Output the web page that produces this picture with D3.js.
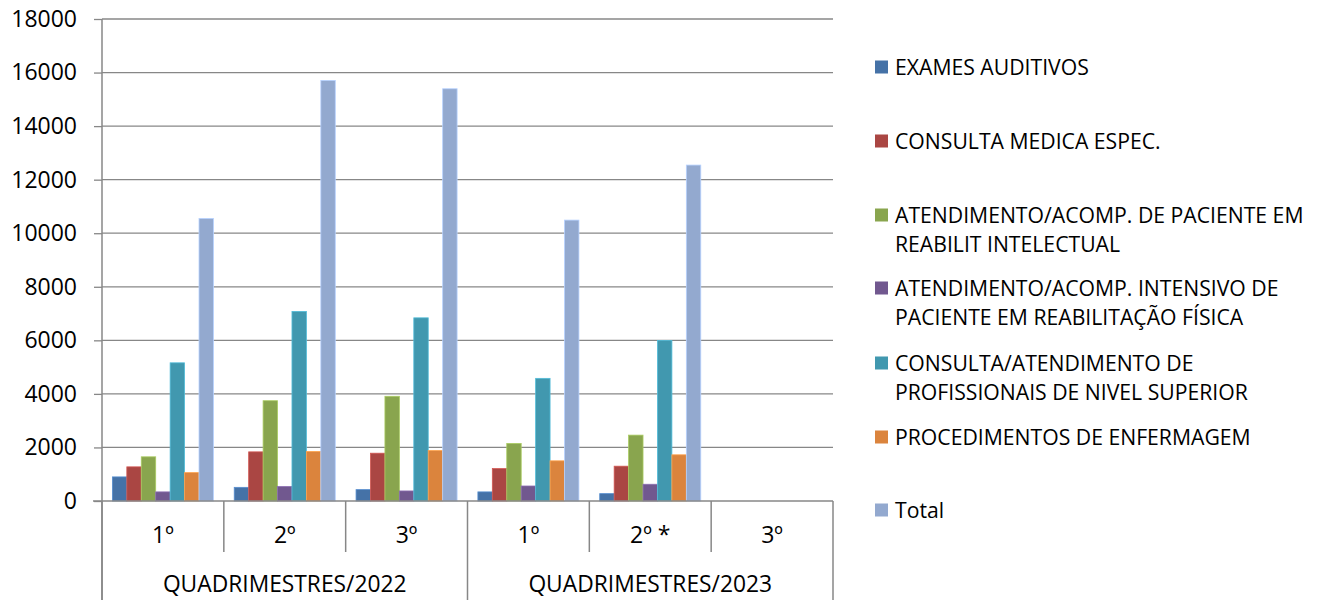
<!DOCTYPE html>
<html>
<head>
<meta charset="utf-8">
<script src="https://cdn.jsdelivr.net/npm/d3@7"></script>
<style>
  html, body { margin: 0; padding: 0; background: #fff; }
  svg { display: block; font-family: "Open Sans", sans-serif; }
</style>
</head>
<body>
<svg id="chart" width="1318" height="600"></svg>
<script>
// ---- data ----
const quarters = ["1º", "2º", "3º", "1º", "2º *", "3º"];
const years = ["QUADRIMESTRES/2022", "QUADRIMESTRES/2023"];
const seriesNames = [
  "EXAMES AUDITIVOS",
  "CONSULTA MEDICA ESPEC.",
  "ATENDIMENTO/ACOMP. DE PACIENTE EM REABILIT INTELECTUAL",
  "ATENDIMENTO/ACOMP. INTENSIVO DE PACIENTE EM REABILITAÇÃO FÍSICA",
  "CONSULTA/ATENDIMENTO DE PROFISSIONAIS DE NIVEL SUPERIOR",
  "PROCEDIMENTOS DE ENFERMAGEM",
  "Total"
];
const legendLines = [
  ["EXAMES AUDITIVOS"],
  ["CONSULTA MEDICA ESPEC."],
  ["ATENDIMENTO/ACOMP. DE PACIENTE EM", "REABILIT INTELECTUAL"],
  ["ATENDIMENTO/ACOMP. INTENSIVO DE", "PACIENTE EM REABILITAÇÃO FÍSICA"],
  ["CONSULTA/ATENDIMENTO DE", "PROFISSIONAIS DE NIVEL SUPERIOR"],
  ["PROCEDIMENTOS DE ENFERMAGEM"],
  ["Total"]
];
const examesAuditivos   = [900, 510, 425, 340, 275, null];
const consultaMedica    = [1275, 1835, 1785, 1210, 1300, null];
const atendIntelectual  = [1650, 3745, 3910, 2150, 2460, null];
const atendFisica       = [340, 540, 375, 560, 625, null];
const consultaSuperior  = [5160, 7080, 6840, 4580, 5995, null];
const procEnfermagem    = [1060, 1850, 1885, 1500, 1725, null];
const total             = [10550, 15705, 15395, 10490, 12545, null];
const seriesValues = [examesAuditivos, consultaMedica, atendIntelectual, atendFisica, consultaSuperior, procEnfermagem, total];
const yTicks = [0, 2000, 4000, 6000, 8000, 10000, 12000, 14000, 16000, 18000];
const colors = ["#4572A7", "#AA4643", "#89A54E", "#71588F", "#4198AF", "#DB843D", "#93A9CF"];

// ---- layout ----
(function () {
const svg = d3.select("#chart");
const pL = 102, pR = 833, pT = 19, pB = 501;
const gridColor = "#878787";

const y = d3.scaleLinear().domain([0, 18000]).range([pB, pT]);
const x0 = d3.scaleBand().domain(d3.range(quarters.length)).range([pL, pR]).paddingInner(0).paddingOuter(0);
const x1 = d3.scaleBand().domain(d3.range(seriesNames.length)).range([0, x0.bandwidth()]).paddingInner(0).paddingOuter(0.72);

// gridlines
svg.append("g").selectAll("line").data(yTicks.filter(d => d > 0)).join("line")
  .attr("x1", pL).attr("x2", pR)
  .attr("y1", d => y(d)).attr("y2", d => y(d))
  .attr("stroke", gridColor).attr("stroke-width", 1.3);

// y axis
const yAxis = svg.append("g").attr("transform", `translate(${pL},0)`)
  .call(d3.axisLeft(y).tickValues(yTicks).tickSize(8).tickPadding(17).tickFormat(d3.format("d")));
yAxis.select(".domain").remove();
yAxis.selectAll(".tick line").attr("stroke", gridColor).attr("stroke-width", 1.3);
yAxis.selectAll(".tick text").attr("font-size", 23).attr("fill", "#000").attr("font-family", "Open Sans, sans-serif");
svg.append("line").attr("x1", pL).attr("x2", pL).attr("y1", pT).attr("y2", 600)
  .attr("stroke", gridColor).attr("stroke-width", 1.5);

// bars
const groups = svg.append("g").selectAll("g").data(quarters.map((q, i) => i)).join("g")
  .attr("transform", i => `translate(${x0(i)},0)`);
groups.selectAll("rect")
  .data(i => seriesValues.map((vals, s) => ({ s, v: vals[i] })).filter(d => d.v != null))
  .join("rect")
  .attr("x", d => x1(d.s))
  .attr("width", x1.bandwidth())
  .attr("y", d => y(d.v))
  .attr("height", d => y(0) - y(d.v))
  .attr("fill", d => colors[d.s])
  .attr("stroke", d => d3.color(colors[d.s]).brighter(0.6))
  .attr("stroke-width", 0.8);

// x axis line
svg.append("line").attr("x1", pL - 9).attr("x2", pR).attr("y1", y(0)).attr("y2", y(0))
  .attr("stroke", gridColor).attr("stroke-width", 1.5);

// category dividers
const boundaries = d3.range(quarters.length + 1).map(i => pL + i * x0.step());
svg.append("g").selectAll("line").data(boundaries).join("line")
  .attr("x1", d => d).attr("x2", d => d)
  .attr("y1", y(0))
  .attr("y2", (d, i) => (i % 3 === 0) ? 600 : 552)
  .attr("stroke", gridColor).attr("stroke-width", 1.5);

// quarter labels
svg.append("g").selectAll("text").data(quarters).join("text")
  .attr("x", (d, i) => x0(i) + x0.bandwidth() / 2)
  .attr("y", 543)
  .attr("text-anchor", "middle")
  .attr("font-size", 23)
  .attr("fill", "#000")
  .text(d => d);

// year labels
svg.append("g").selectAll("text").data(years).join("text")
  .attr("x", (d, i) => (x0(i * 3) + x0(i * 3 + 2) + x0.bandwidth()) / 2)
  .attr("y", 592)
  .attr("text-anchor", "middle")
  .attr("font-size", 22.8)
  .attr("fill", "#000")
  .text(d => d);

// legend
const legendY = [67, 141, 215, 288, 363, 437, 510];
const leg = svg.append("g").selectAll("g").data(legendLines).join("g")
  .attr("transform", (d, i) => `translate(875,${legendY[i]})`);
leg.append("rect").attr("x", 0).attr("y", -6.5).attr("width", 13).attr("height", 13)
  .attr("fill", (d, i) => colors[i]);
leg.append("text")
  .attr("x", 20).attr("y", 0)
  .attr("font-size", 21.2)
  .attr("fill", "#000")
  .selectAll("tspan").data(d => d).join("tspan")
  .attr("x", 20)
  .attr("y", (d, j) => j * 29)
  .attr("dy", "0.36em")
  .text(d => d);
})();
</script>
</body>
</html>
